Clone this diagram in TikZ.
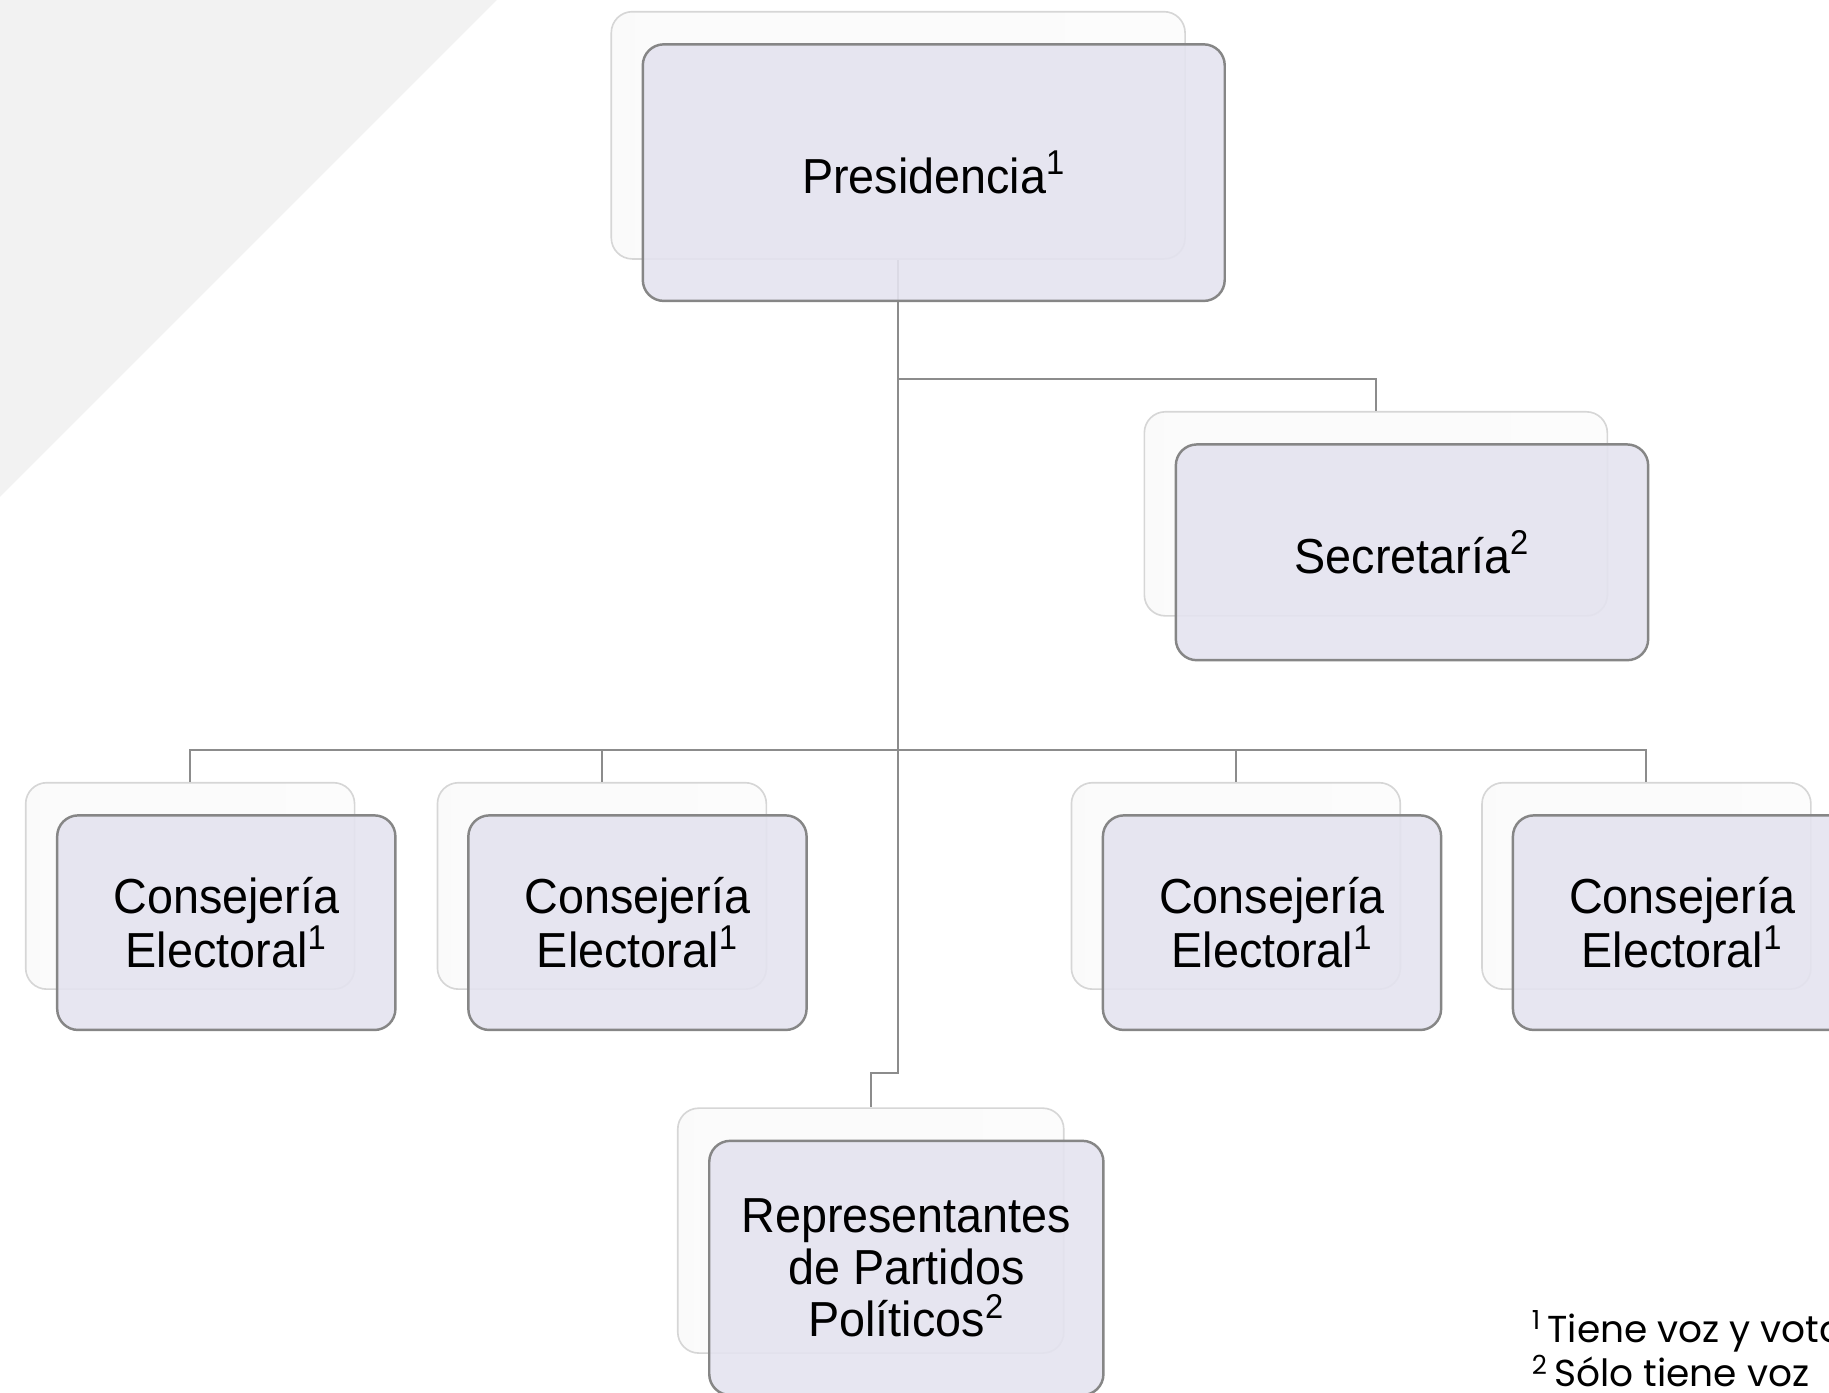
\documentclass[tikz,border=0pt]{standalone}
\usepackage{fontspec}
\setmainfont{Liberation Sans}[FakeStretch=0.95]
\newfontfamily\notefont{Poppins}
\definecolor{tri}{HTML}{F2F2F2}
\definecolor{frontfill}{HTML}{E4E3EF}
\definecolor{frontdraw}{HTML}{868686}
\definecolor{backdraw}{HTML}{D6D6D6}
\definecolor{conncol}{HTML}{8C8C8C}
\pgfdeclarehorizontalshading{backshade}{100bp}{color(0bp)=(black!28); color(2bp)=(black!10); color(4.5bp)=(black!2); color(100bp)=(black!1)}
\tikzset{
  frontbox/.style={draw=frontdraw, line width=1.2pt, fill=frontfill, fill opacity=0.9, text opacity=1, draw opacity=1, rounded corners=0.36cm, align=center, font=\fontsize{24}{25.4}\selectfont, inner sep=0pt},
  backbox/.style={draw=backdraw, line width=0.8pt, shading=backshade, rounded corners=0.36cm, inner sep=0pt},
  conn/.style={draw=conncol, line width=1pt},
  note/.style={anchor=base west, inner sep=0pt, font=\notefont\fontsize{18.3}{22}\selectfont}
}
\begin{document}
\begin{tikzpicture}[x=0.02cm,y=-0.02cm]
\useasboundingbox (0,0) rectangle (1568,1194);
\clip (0,0) rectangle (1568,1194);
\fill[tri] (0,0) -- (426,0) -- (0,426) -- cycle;
% back boxes
\node[backbox, minimum width=9.84cm, minimum height=4.24cm] (presB) at (770,116) {};
\node[backbox, minimum width=7.94cm, minimum height=3.5cm] (secB) at (1179.5,440.5) {};
\node[backbox, minimum width=5.64cm, minimum height=3.54cm] (c1B) at (163,759.5) {};
\node[backbox, minimum width=5.64cm, minimum height=3.54cm] (c2B) at (516,759.5) {};
\node[backbox, minimum width=5.64cm, minimum height=3.54cm] (c3B) at (1059.5,759.5) {};
\node[backbox, minimum width=5.64cm, minimum height=3.54cm] (c4B) at (1411.5,759.5) {};
\node[backbox, minimum width=6.62cm, minimum height=4.2cm] (repB) at (746.5,1055) {};
% bus levels
\coordinate (busA) at (0,325);
\coordinate (busB) at (0,643);
\coordinate (busC) at (0,920);
% connectors
\draw[conn] (presB.south) -- (presB.south |- busA) -| (secB.north);
\draw[conn] (presB.south |- busA) -- (presB.south |- busC) -| (repB.north);
\draw[conn] (c1B.north) -- (c1B.north |- busB) -- (c4B.north |- busB) -- (c4B.north);
\draw[conn] (c2B.north) -- (c2B.north |- busB);
\draw[conn] (c3B.north) -- (c3B.north |- busB);
% front boxes
\node[frontbox, minimum width=9.98cm, minimum height=4.4cm] (presF) at (800.5,148) {Presidencia\textsuperscript{1}};
\node[frontbox, minimum width=8.1cm, minimum height=3.7cm] (secF) at (1210.5,473.5) {Secretaría\textsuperscript{2}};
\node[frontbox, minimum width=5.8cm, minimum height=3.68cm] (c1F) at (194,791) {Consejería\\Electoral\textsuperscript{1}};
\node[frontbox, minimum width=5.8cm, minimum height=3.68cm] (c2F) at (546.5,791) {Consejería\\Electoral\textsuperscript{1}};
\node[frontbox, minimum width=5.8cm, minimum height=3.68cm] (c3F) at (1090.5,791) {Consejería\\Electoral\textsuperscript{1}};
\node[frontbox, minimum width=5.8cm, minimum height=3.68cm] (c4F) at (1442,791) {Consejería\\Electoral\textsuperscript{1}};
\node[frontbox, minimum width=6.76cm, minimum height=4.36cm] (repF) at (777,1087) {Representantes\\de Partidos\\Políticos\textsuperscript{2}};
% notes
\node[note] (n1) at (1313,1150.6) {\textsuperscript{1}\,Tiene voz y voto};
\node[note] (n2) at (1313,1189) {\textsuperscript{2}\,Sólo tiene voz};
\end{tikzpicture}
\end{document}
